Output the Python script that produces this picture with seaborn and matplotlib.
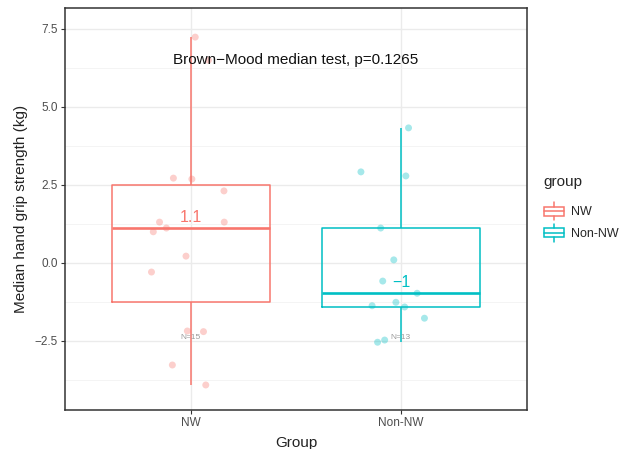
import numpy as np
import pandas as pd
import matplotlib
matplotlib.use("Agg")
import matplotlib.pyplot as plt
import seaborn as sns
from matplotlib.patches import Patch, Rectangle
from matplotlib.lines import Line2D
from matplotlib.legend_handler import HandlerBase
from matplotlib.ticker import MultipleLocator

# data
groups = ["NW", "Non-NW"]
nw_values = [7.24, 6.5, 2.72, 2.69, 2.31, 1.31, 1.31, 1.12, 1.0, 0.22,
             -0.29, -2.18, -2.2, -3.27, -3.91]
non_nw_values = [4.33, 2.92, 2.79, 1.12, 0.1, -0.58, -0.97, -1.26, -1.37,
                 -1.41, -1.77, -2.47, -2.54]
p_value = 0.1265
colors = {"NW": "#F8766D", "Non-NW": "#00BFC4"}

df = pd.DataFrame({
    "group": ["NW"] * len(nw_values) + ["Non-NW"] * len(non_nw_values),
    "value": nw_values + non_nw_values,
})

sns.set_theme(style="whitegrid")
plt.rcParams["font.family"] = ["Liberation Sans", "DejaVu Sans"]


class BoxKey(HandlerBase):
    # ggplot-style boxplot legend key
    def create_artists(self, legend, orig_handle, xdescent, ydescent,
                       width, height, fontsize, trans):
        c = orig_handle.get_edgecolor()
        x0, y0 = -xdescent, -ydescent
        cx = x0 + width / 2
        box = Rectangle((x0, y0 + height * 0.25), width, height * 0.5,
                        facecolor="white", edgecolor=c, lw=1.1, transform=trans)
        med = Line2D([x0, x0 + width], [y0 + height / 2] * 2, color=c, lw=1.1,
                     transform=trans)
        w1 = Line2D([cx, cx], [y0, y0 + height * 0.25], color=c,
                    lw=1.1, transform=trans)
        w2 = Line2D([cx, cx], [y0 + height * 0.75, y0 + height], color=c,
                    lw=1.1, transform=trans)
        return [box, med, w1, w2]


fig = plt.figure(figsize=(6.25, 4.49), dpi=100)
ax = fig.add_axes([0.104, 0.087, 0.739, 0.895])

sns.boxplot(data=df, x="group", y="value", hue="group", order=groups,
            hue_order=groups, palette=colors, fill=False, width=0.75,
            linewidth=1.1, showfliers=False, showcaps=False, legend=False,
            medianprops=dict(linewidth=1.9), ax=ax)

np.random.seed(3)
sns.stripplot(data=df, x="group", y="value", hue="group", order=groups,
              hue_order=groups, palette=colors, jitter=0.2, alpha=0.35,
              size=5, linewidth=0, legend=False, ax=ax, zorder=4)

# median labels and counts
for i, g in enumerate(groups):
    vals = df.loc[df["group"] == g, "value"]
    med = np.median(vals)
    lab = f"{round(med, 1):g}".replace("-", "\u2212")
    ax.text(i, med + 0.33, lab, color=colors[g], ha="center", va="center",
            fontsize=11.5, zorder=5)
    ax.text(i, -2.4, f"N={len(vals)}", color="#9a9a9a", ha="center",
            va="center", fontsize=6, zorder=5)

ax.text(0.5, 6.5, f"Brown\u2212Mood median test, p={p_value}", ha="center",
        va="center", fontsize=11, color="#111111", zorder=5)

ax.set_xlim(-0.6, 1.6)
ax.set_ylim(-4.71, 8.17)
ax.yaxis.set_major_locator(MultipleLocator(2.5))
ax.yaxis.set_minor_locator(MultipleLocator(1.25))
ax.grid(True, which="major", color="#EBEBEB", lw=1.0)
ax.grid(True, which="minor", axis="y", color="#F2F2F2", lw=0.6)
ax.set_axisbelow(True)

for s in ax.spines.values():
    s.set_visible(True)
    s.set_color("#333333")
    s.set_linewidth(1.1)

ax.tick_params(axis="both", which="major", length=3, width=0.8,
               color="#333333", labelcolor="#4D4D4D", labelsize=8.5, pad=2,
               bottom=True, left=True)
ax.tick_params(axis="y", which="minor", length=0)

ax.set_xlabel("Group", fontsize=11, color="#222222", labelpad=5)
ax.set_ylabel("Median hand grip strength (kg)", fontsize=11,
              color="#222222", labelpad=5)

handles = [Patch(edgecolor=colors[g], facecolor="white", label=g) for g in groups]
leg = fig.legend(handles=handles, title="group", loc="center left",
                 bbox_to_anchor=(0.862, 0.535), frameon=False, fontsize=9,
                 title_fontsize=11, handler_map={Patch: BoxKey()},
                 handlelength=1.6, handleheight=1.9, handletextpad=0.6,
                 labelspacing=0.25, alignment="left", borderaxespad=0)
leg._legend_box.sep = 9

fig.savefig("out.png", dpi=100)
